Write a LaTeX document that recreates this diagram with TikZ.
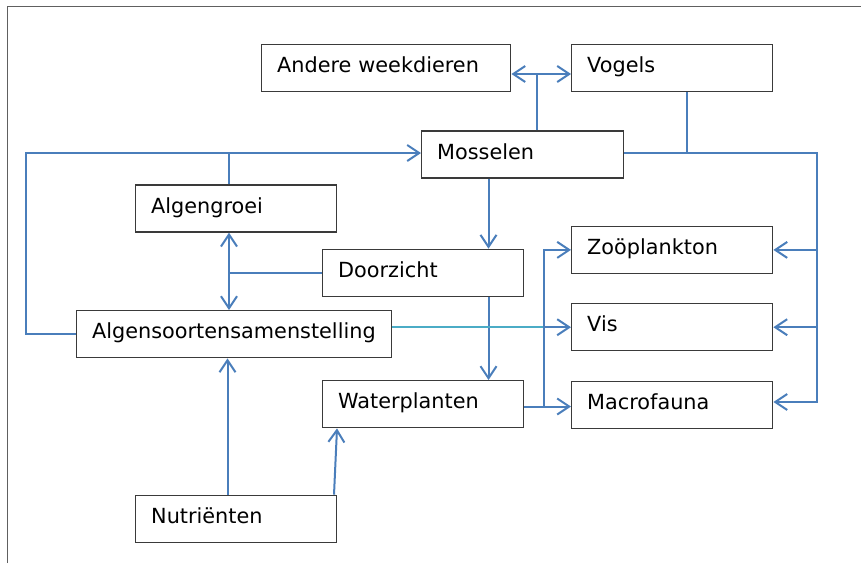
\documentclass[tikz,border=0pt]{standalone}
\usepackage{fontspec}
\setmainfont{DejaVu Sans}
\usetikzlibrary{arrows.meta}
\definecolor{lnblue}{HTML}{4A7EBB}
\definecolor{lncyan}{HTML}{4BACC6}
\definecolor{boxgray}{HTML}{3A3A3A}
\definecolor{framegray}{HTML}{606060}
\tikzset{
  box/.style={draw=boxgray, line width=1.4pt, anchor=north west, inner xsep=15.5pt, inner ysep=0pt,
    text width=#1-31pt, align=left, minimum height=47pt, text height=28pt, text depth=19pt,
    font=\fontsize{20.8pt}{24pt}\selectfont},
  ln/.style={draw=lnblue, line width=2pt},
  cy/.style={draw=lncyan, line width=2pt},
  tip/.style={-{Straight Barb[length=12pt,width=16pt]}},
  tips/.style={{Straight Barb[length=12pt,width=16pt]}-{Straight Barb[length=12pt,width=16pt]}}
}
\begin{document}
\begin{tikzpicture}[x=1pt,y=-1pt]
\useasboundingbox (0,0) rectangle (861,563);
\draw[framegray, line width=1.5pt] (7.5,563) -- (7.5,6.5) -- (861,6.5);

\node[box=249pt] (and) at (261,44) {Andere weekdieren};
\node[box=201pt] (vog) at (571,44) {Vogels};
\node[box=202pt] (mos) at (421,130.3) {Mosselen};
\node[box=201pt] (alg) at (135,184.3) {Algengroei};
\node[box=201pt] (doo) at (322,248.7) {Doorzicht};
\node[box=201pt] (zoo) at (571,225.7) {Zoöplankton};
\node[box=315pt] (als) at (76,310) {Algensoortensamenstelling};
\node[box=201pt] (vis) at (571,303) {Vis};
\node[box=201pt] (wat) at (322,380) {Waterplanten};
\node[box=201pt] (mac) at (571,380.7) {Macrofauna};
\node[box=201pt] (nut) at (135,494.7) {Nutriënten};

% junction coordinates
\coordinate (j1) at (536.5,74);
\coordinate (j2) at (686.5,153);
\coordinate (r1) at (817,153);
\coordinate (r4) at (817,402);
\coordinate (l1) at (26,153);
\coordinate (ax) at (229,153);
\coordinate (nx) at (227.5,0);
\coordinate (mx) at (488.5,0);
\coordinate (b1) at (543.5,0);
\coordinate (wy) at (0,406.5);
\coordinate (n1) at (334,0);
\coordinate (n2) at (337,0);

% Mosselen -> Andere weekdieren / Vogels
\draw[ln] (mos.north -| j1) -- (j1);
\draw[ln,tips] (and.east |- j1) -- (vog.west |- j1);
% Vogels / Mosselen -> right bus
\draw[ln] (vog.south -| j2) -- (j2);
\draw[ln,tip] (mos.east |- r1) -- (r1) -- (r4) -- (mac.east |- r4);
\draw[ln,tip] (r1 |- zoo.east) -- (zoo.east);
\draw[ln,tip] (r1 |- vis.east) -- (vis.east);
% left loop
\draw[ln,tip] (als.west) -- (als.west -| l1) -- (l1) -- (mos.west |- l1);
\draw[ln] (alg.north -| ax) -- (ax);
% Mosselen -> Doorzicht -> Waterplanten
\draw[ln,tip] (mos.south -| mx) -- (doo.north -| mx);
\draw[ln,tip] (doo.south -| mx) -- (wat.north -| mx);
% Doorzicht -> Algengroei / Algensoorten
\draw[ln] (doo.west) -- (doo.west -| ax);
\draw[ln,tips] (alg.south -| ax) -- (als.north -| ax);
% Algensoorten -> Vis
\draw[cy] (als.east |- vis.west) -- (b1 |- vis.west);
\draw[ln,tip] (b1 |- vis.west) -- (vis.west);
% Waterplanten -> Macrofauna / Zooplankton
\draw[ln,tip] (wat.east |- wy) -- (mac.west |- wy);
\draw[ln,tip] (b1 |- wy) -- (b1 |- zoo.west) -- (zoo.west);
% Nutrienten
\draw[ln,tip] (nut.north -| nx) -- (als.south -| nx);
\draw[ln,tip] (nut.north -| n1) -- (wat.south -| n2);
\end{tikzpicture}
\end{document}
